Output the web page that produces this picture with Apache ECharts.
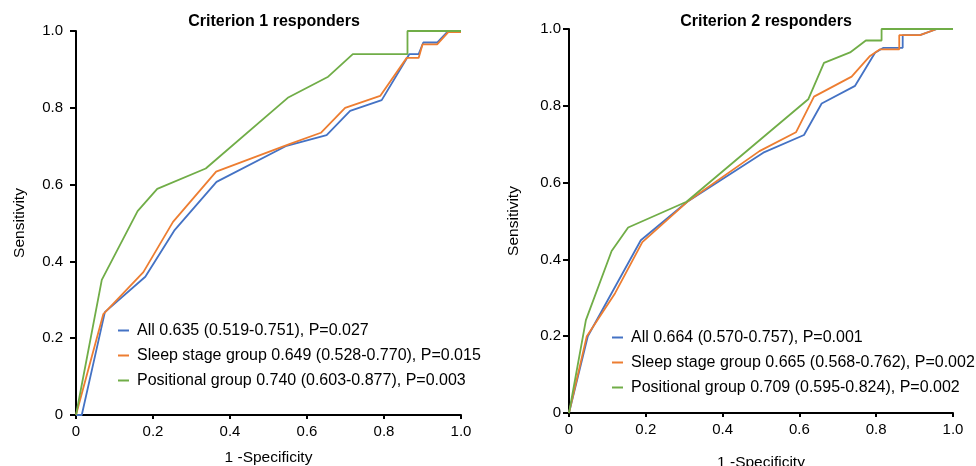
<!DOCTYPE html>
<html>
<head>
<meta charset="utf-8">
<script src="https://cdn.jsdelivr.net/npm/echarts@6/dist/echarts.min.js"></script>
<style>
html,body{margin:0;padding:0;background:#fff;}
#chart{width:976px;height:466px;}
</style>
</head>
<body>
<div id="chart"></div>
<script>
// ---- Data ----
const titles = ['Criterion 1 responders', 'Criterion 2 responders'];
const axisTicks = [0, 0.2, 0.4, 0.6, 0.8, 1.0];

const c1Names = [
  'All 0.635 (0.519-0.751), P=0.027',
  'Sleep stage group 0.649 (0.528-0.770), P=0.015',
  'Positional group 0.740 (0.603-0.877), P=0.003'
];
const c2Names = [
  'All 0.664 (0.570-0.757), P=0.001',
  'Sleep stage group 0.665 (0.568-0.762), P=0.002',
  'Positional group 0.709 (0.595-0.824), P=0.002'
];

// Criterion 1: [1-specificity, sensitivity]
const c1All = [[0,0],[0.015,0],[0.075,0.268],[0.18,0.36],[0.255,0.48],[0.365,0.607],[0.547,0.701],[0.651,0.729],[0.712,0.792],[0.794,0.82],[0.866,0.94],[0.89,0.94],[0.902,0.97],[0.938,0.97],[0.967,1.0],[1,1]];
const c1Sleep = [[0,0],[0.071,0.263],[0.175,0.372],[0.252,0.503],[0.364,0.634],[0.556,0.706],[0.636,0.735],[0.699,0.80],[0.79,0.831],[0.859,0.93],[0.89,0.93],[0.9,0.965],[0.938,0.965],[0.967,0.997],[1,0.997]];
const c1Pos = [[0,0],[0.067,0.352],[0.16,0.531],[0.211,0.589],[0.337,0.642],[0.55,0.826],[0.655,0.881],[0.719,0.94],[0.861,0.94],[0.861,1.0],[1,1]];

// Criterion 2
const c2All = [[0,0],[0.049,0.2],[0.187,0.45],[0.308,0.55],[0.506,0.678],[0.612,0.724],[0.658,0.806],[0.745,0.852],[0.797,0.938],[0.819,0.951],[0.869,0.951],[0.869,0.984],[0.914,0.984],[0.958,1.0],[1,1]];
const c2Sleep = [[0,0],[0.046,0.199],[0.12,0.312],[0.191,0.445],[0.308,0.55],[0.496,0.682],[0.591,0.731],[0.638,0.824],[0.736,0.876],[0.784,0.93],[0.81,0.947],[0.86,0.947],[0.86,0.984],[0.914,0.984],[0.958,1],[1,1]];
const c2Pos = [[0,0],[0.044,0.242],[0.111,0.422],[0.154,0.483],[0.306,0.55],[0.623,0.817],[0.664,0.912],[0.732,0.939],[0.773,0.97],[0.814,0.97],[0.814,1.0],[1,1]];

const colors = ['#4472C4', '#ED7D31', '#70AD47'];

// ---- Chart ----
const FONT = '"Liberation Sans", Arial, sans-serif';
const chart = echarts.init(document.getElementById('chart'), null, {renderer: 'canvas'});

function fmt(v) { return v === 0 ? '0' : v.toFixed(1); }

function xAxis(idx, nameGap) {
  return {
    type: 'value', gridIndex: idx, min: axisTicks[0], max: axisTicks[axisTicks.length - 1], interval: 0.2,
    name: '1 -Specificity', nameLocation: 'middle', nameGap: nameGap,
    nameTextStyle: {fontFamily: FONT, fontSize: 15.5, color: '#000'},
    axisLine: {show: true, onZero: false, lineStyle: {color: '#000', width: 2}},
    axisTick: {show: true, length: 4, lineStyle: {color: '#000', width: 2}},
    axisLabel: {formatter: fmt, fontFamily: FONT, fontSize: 15, color: '#000', margin: 9},
    splitLine: {show: false}
  };
}
function yAxis(idx, margin, nameGap) {
  return {
    type: 'value', gridIndex: idx, min: axisTicks[0], max: axisTicks[axisTicks.length - 1], interval: 0.2,
    name: 'Sensitivity', nameLocation: 'middle', nameGap: nameGap, nameRotate: 90,
    nameTextStyle: {fontFamily: FONT, fontSize: 15.5, color: '#000'},
    axisLine: {show: true, onZero: false, lineStyle: {color: '#000', width: 2}},
    axisTick: {show: true, length: 6, lineStyle: {color: '#000', width: 2}},
    axisLabel: {formatter: fmt, fontFamily: FONT, fontSize: 15, color: '#000', margin: margin},
    splitLine: {show: false}
  };
}
function lineSeries(name, data, color, idx) {
  return {
    type: 'line', name: name, data: data, xAxisIndex: idx, yAxisIndex: idx,
    showSymbol: false, symbol: 'none', silent: true, animation: false,
    lineStyle: {color: color, width: 1.8}, itemStyle: {color: color}
  };
}
function legend(names, left, top) {
  return {
    data: names, orient: 'vertical', left: left, top: top,
    icon: 'rect', itemWidth: 11, itemHeight: 2, itemGap: 8,
    textStyle: {fontFamily: FONT, fontSize: 16, color: '#000', lineHeight: 17, padding: [0, 0, 0, 3]},
    selectedMode: false
  };
}

chart.setOption({
  animation: false,
  backgroundColor: '#fff',
  title: [
    {text: titles[0], left: 269, top: 9, textAlign: 'center',
     textStyle: {fontFamily: FONT, fontSize: 16, fontWeight: 'bold', color: '#000'}},
    {text: titles[1], left: 761, top: 9, textAlign: 'center',
     textStyle: {fontFamily: FONT, fontSize: 16, fontWeight: 'bold', color: '#000'}}
  ],
  legend: [legend(c1Names, 113, 317), legend(c2Names, 607, 324)],
  grid: [
    {left: 76, top: 31, width: 385, height: 384, containLabel: false, outerBoundsMode: 'none'},
    {left: 569, top: 29, width: 384, height: 384, containLabel: false, outerBoundsMode: 'none'}
  ],
  xAxis: [xAxis(0, 35), xAxis(1, 42)],
  yAxis: [yAxis(0, 13, 48), yAxis(1, 8, 47)],
  series: [
    lineSeries(c1Names[0], c1All, colors[0], 0),
    lineSeries(c1Names[1], c1Sleep, colors[1], 0),
    lineSeries(c1Names[2], c1Pos, colors[2], 0),
    lineSeries(c2Names[0], c2All, colors[0], 1),
    lineSeries(c2Names[1], c2Sleep, colors[1], 1),
    lineSeries(c2Names[2], c2Pos, colors[2], 1)
  ]
});
</script>
</body>
</html>
